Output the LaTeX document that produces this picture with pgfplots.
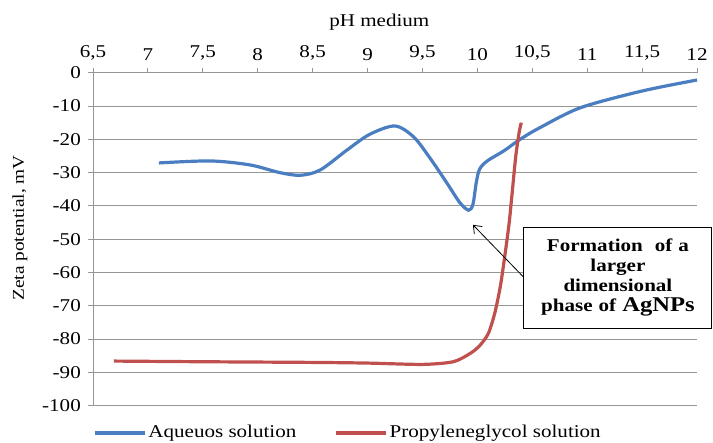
\documentclass[border=0pt]{standalone}
\usepackage{pgfplots}
\pgfplotsset{compat=1.18}
\usetikzlibrary{arrows.meta}
\usepackage{fontspec}
\setmainfont{Liberation Serif}[FakeStretch=1.17]
\definecolor{exblue}{RGB}{74,126,193}
\definecolor{exred}{RGB}{192,80,77}
\definecolor{gridgray}{RGB}{150,150,150}
\begin{document}
\fontsize{18bp}{21bp}\selectfont
\begin{tikzpicture}
\path[use as bounding box] (-93bp,-37.3bp) rectangle (620bp,405.7bp);
\begin{axis}[
  name=ax,
  scale only axis,
  width=604bp, height=333bp,
  xmin=6.5, xmax=12, ymin=-100, ymax=0,
  axis x line*=top, axis y line*=left,
  axis line style={gridgray, line width=0.9bp, -},
  xtick={6.5,7,7.5,8,8.5,9,9.5,10,10.5,11,11.5,12},
  xticklabels={{6,5},7,{7,5},8,{8,5},9,{9,5},10,{10,5},11,{11,5},12},
  ytick={-100,-90,-80,-70,-60,-50,-40,-30,-20,-10,0},
  yticklabels={-100,-90,-80,-70,-60,-50,-40,-30,-20,-10,0},
  /pgf/number format/assume math mode=true,
  tick align=outside,
  major tick length=5bp,
  tick style={gridgray, line width=0.9bp},
  ymajorgrids,
  major grid style={gridgray, line width=0.9bp},
  ticklabel style={font=\fontsize{18bp}{20bp}\selectfont, text=black},
  xticklabel style={yshift=1bp},
  yticklabel style={xshift=-1bp},
  xlabel={pH medium},
  xlabel style={at={(axis description cs:0.474,1.152)}, anchor=center, font=\fontsize{18bp}{20bp}\selectfont},
  ylabel={Zeta potential, mV},
  ylabel style={at={(axis description cs:-0.121,0.534)}, anchor=center, rotate=0, font=\fontsize{16.5bp}{18bp}\selectfont},
  legend columns=2,
  legend style={at={(axis description cs:0.0,-0.082)}, anchor=west, draw=none, fill=none, inner sep=0pt,
    font=\fontsize{18bp}{20bp}\selectfont,
    /tikz/every even column/.append style={column sep=36bp}},
  legend cell align=left,
  legend image code/.code={\draw[#1] (0bp,0bp) -- (50bp,0bp);},
  clip=false,
]
\addplot[exblue, line width=3.2bp, smooth, tension=0.5] coordinates {
(7.1,-27.1) (7.57,-26.5) (7.93,-27.7) (8.2,-30) (8.39,-30.8) (8.57,-29.2)
(8.81,-23.3) (9.02,-18.5) (9.25,-16) (9.42,-19.3) (9.57,-25.7) (9.72,-33)
(9.84,-39) (9.92,-41.3) (9.96,-39.5) (9.99,-33) (10.02,-29) (10.09,-26.5)
(10.24,-23.5) (10.39,-20) (10.57,-16.5) (10.94,-10.5) (11.5,-5.5) (12,-2.2)
};
\addlegendentry{Aqueuos solution}
\addplot[exred, line width=3.2bp, smooth, tension=0.45] coordinates {
(6.69,-86.6) (7.5,-86.8) (8.5,-87) (9.0,-87.2) (9.5,-87.6) (9.78,-86.8)
(9.93,-84.4) (10.02,-82) (10.1,-78.3) (10.16,-72) (10.21,-64) (10.25,-55)
(10.29,-45) (10.32,-35) (10.35,-25) (10.38,-18) (10.40,-15)
};
\addlegendentry{Propyleneglycol solution}
\draw[black, line width=0.8bp, -{Straight Barb[length=7bp,width=11bp]}] (axis cs:10.43,-61.7) -- (axis cs:9.96,-45.7);
\node[draw=black, line width=0.9bp, fill=white, minimum width=188bp, minimum height=101bp,
  text width=180bp, align=center, inner sep=0pt,
  font=\bfseries\fontsize{18bp}{20bp}\selectfont] at (axis cs:11.28,-61.5)
  {Formation\ \ of a\\larger\\dimensional\\phase of {\fontsize{21bp}{20bp}\selectfont AgNPs}};
\end{axis}
\end{tikzpicture}
\end{document}
